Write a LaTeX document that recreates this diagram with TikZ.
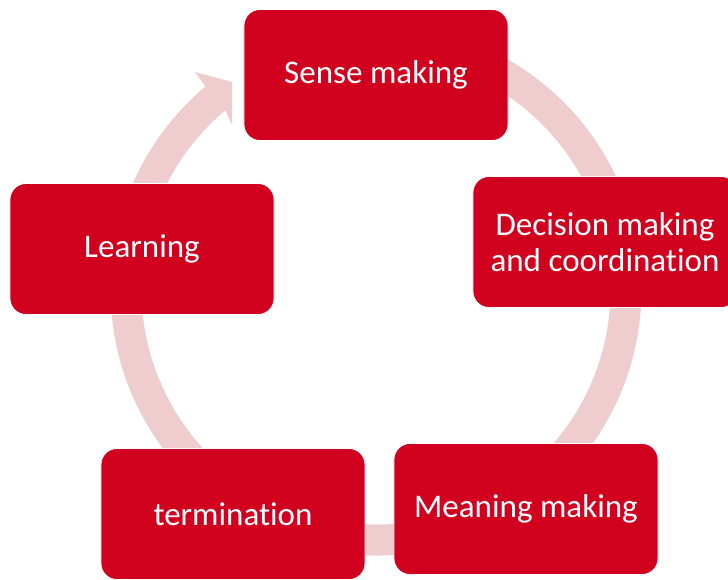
\documentclass[tikz,border=0pt]{standalone}
\usepackage{fontspec}
\setmainfont{Carlito}[Ligatures=NoCommon]
\usepackage{tikz}
\usepackage{xcolor}
\usetikzlibrary{arrows,calc,positioning,shapes}
\definecolor{stagered}{RGB}{208,0,30}
\definecolor{ringpink}{RGB}{239,204,205}
\tikzset{%
	stage/.style = {draw=white, line width=0.6pt, fill=stagered, rounded corners=0.4cm, minimum width=6.6cm, minimum height=3.275cm, inner sep=0pt, text=white, align=center, font=\fontsize{23.5}{25.6}\selectfont},
	ring/.style  = {draw=ringpink, line width=0.775cm},
}

\begin{document}
\begin{tikzpicture}[x=0.025cm,y=-0.025cm]
	\useasboundingbox (0,0) rectangle (728,579);
	\clip (0,0) rectangle (728,579);
	\coordinate (hub) at (376,290);
	
	% ring with its head
	\draw[ring] ([shift={(hub)}]-120:250) arc[start angle=-120, end angle=230.5, radius=250];
	\fill[ringpink] ([shift={(hub)}]230:265.5) -- (195,72) -- (232,82) -- (232,125) -- ([shift={(hub)}]230:234.5) -- cycle;
	
	\node[stage] (sense) at (376,75) {Sense making};
	\node[stage] (decision) at (605,242) {Decision making\\and coordination};
	\node[stage] (meaning) at (526,509) {Meaning making};
	\node[stage] (termination) at (233,514) {termination};
	\node[stage] (learning) at (142,249) {Learning};
\end{tikzpicture}
\end{document}
